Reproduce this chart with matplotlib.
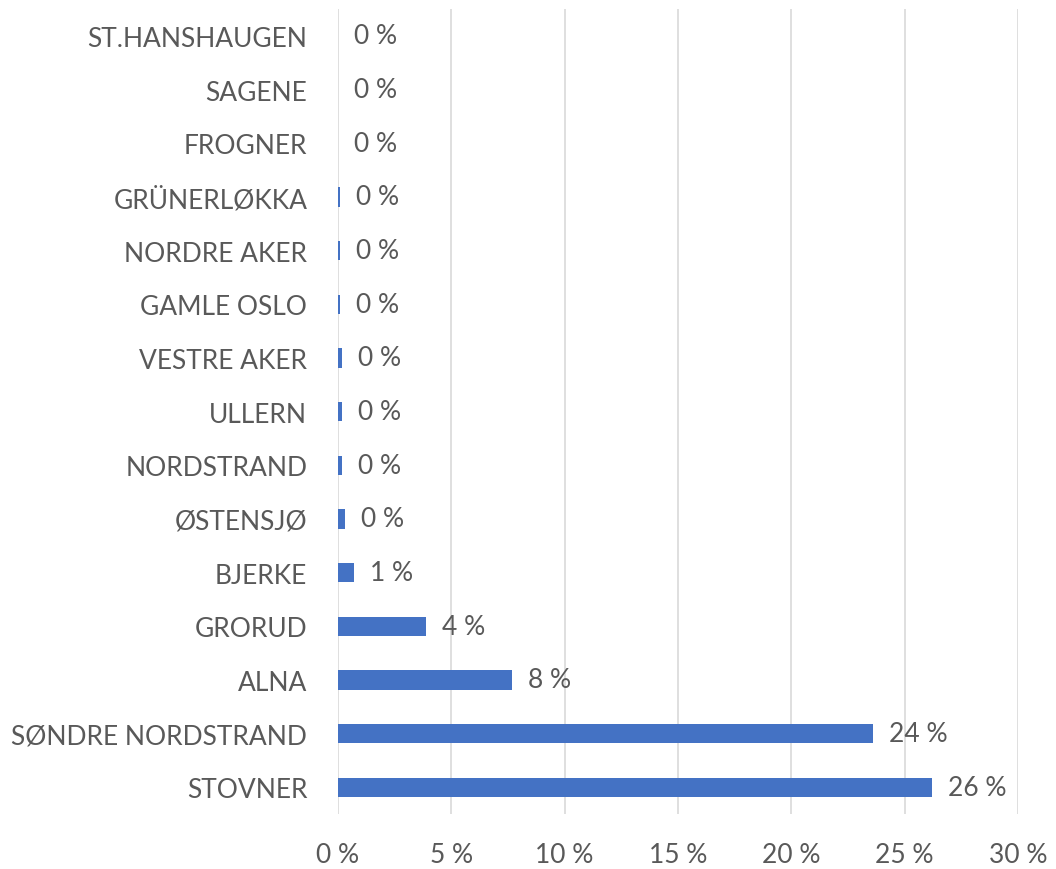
import matplotlib.pyplot as plt
import numpy as np

# Andel per bydel (prosent)
bydeler = ["STOVNER", "SØNDRE NORDSTRAND", "ALNA", "GRORUD", "BJERKE",
           "ØSTENSJØ", "NORDSTRAND", "ULLERN", "VESTRE AKER", "GAMLE OSLO",
           "NORDRE AKER", "GRÜNERLØKKA", "FROGNER", "SAGENE", "ST.HANSHAUGEN"]
andel = [26.2, 23.6, 7.7, 3.9, 0.7, 0.3, 0.2, 0.2, 0.2, 0.1, 0.1, 0.1, 0.0, 0.0, 0.0]
xticks = [0, 5, 10, 15, 20, 25, 30]

plt.rcParams['font.family'] = ['Lato', 'DejaVu Sans']
grey = "#595959"

fig = plt.figure(figsize=(10.56, 8.7), dpi=100)
ax = fig.add_axes([0.32, 0.063, 0.644, 0.9255])

y = np.arange(len(bydeler))
ax.barh(y, andel, height=0.36, color="#4472C4", zorder=3)

for yi, v in zip(y, andel):
        ax.text(v + 0.7, yi, "%d %%" % round(v), va="center", ha="left",
                fontsize=19, color=grey)

ax.set_xlim(0, 30)
ax.set_ylim(-0.5, len(bydeler) - 0.5)
ax.set_yticks(y)
ax.set_yticklabels(bydeler, fontsize=19, color=grey)
ax.set_xticks(xticks)
ax.set_xticklabels(["%d %%" % t for t in xticks], fontsize=19, color=grey)
ax.tick_params(axis="both", length=0)
ax.tick_params(axis="y", pad=22)
ax.tick_params(axis="x", pad=20)
ax.grid(axis="x", color="#d9d9d9", linewidth=1.2, zorder=0)
for s in ax.spines.values():
        s.set_visible(False)

fig.savefig("out.png", dpi=100)
